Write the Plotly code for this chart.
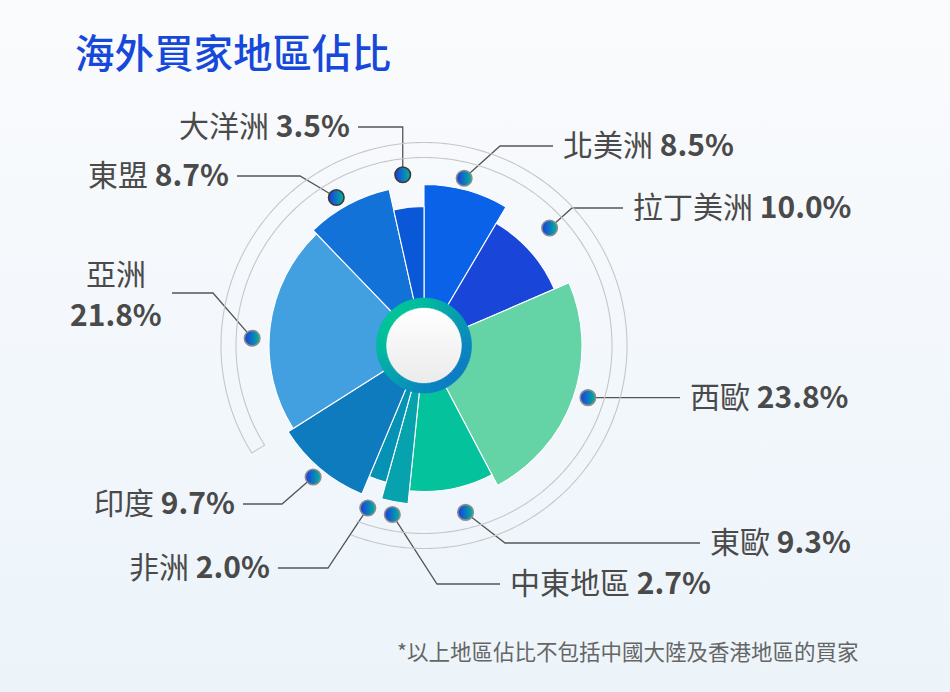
import math

import plotly.graph_objects as go


# =============================================================================
# DATA
# =============================================================================

regions = ["北美洲", "拉丁美洲", "西歐", "東歐", "中東地區",
           "非洲", "印度", "亞洲", "東盟", "大洋洲"]
shares = [8.5, 10.0, 23.8, 9.3, 2.7, 2.0, 9.7, 21.8, 8.7, 3.5]
# length of each petal in px (long / short petals)
petal_len = [161, 142, 158, 146, 159, 142, 161, 155, 160, 139]

colors = ["#0a62e8", "#1a45d9", "#64d3a5", "#04c29c", "#06a3ae",
          "#0592b4", "#0e7bbe", "#429fe0", "#1272d8", "#0a58d8"]

TITLE = "海外買家地區佔比"
NOTE = "*以上地區佔比不包括中國大陸及香港地區的買家"


# =============================================================================
# LAYOUT CONSTANTS (px)
# =============================================================================

W, H = 950, 692
CX, CY = 424, 345.5          # centre of the rose
R_POLAR = 212                # radius of the polar area
HOLE = 40                    # petals start here (hidden by the centre ring)
DOT_R = 172                  # radius where the callout dots sit

# callouts: elbow point, x where the horizontal line ends, side of the text,
# nudge = small angular shift of the dot (deg) to match the original placement
callouts = {
    "北美洲": dict(elbow=(500, 146), end=553, side="right", nudge=-1.8),
    "拉丁美洲": dict(elbow=(572, 208), end=623, side="right", nudge=-1.7),
    "西歐": dict(elbow=None, end=680, side="right", nudge=-1.8),
    "東歐": dict(elbow=(505, 543), end=700, side="right", nudge=-3),
    "中東地區": dict(elbow=(437, 584), end=500, side="right", nudge=0),
    "非洲": dict(elbow=(328, 568), end=278, side="left", nudge=0),
    "印度": dict(elbow=(282, 504), end=243, side="left", nudge=0),
    "亞洲": dict(elbow=(213, 293), end=172, side="stack", nudge=-4.4),
    "東盟": dict(elbow=(300, 176), end=237, side="left", nudge=-2.4),
    "大洋洲": dict(elbow="vertical", end=358, side="left", y=127, nudge=-0.8),
}
dark_dots = {"東盟", "大洋洲"}


def to_px(r, theta):
    """polar (r in px, theta clockwise from 12 o'clock) -> page px"""
    a = math.radians(theta)
    return CX + r * math.sin(a), CY - r * math.cos(a)


widths = [s * 3.6 for s in shares]
thetas = []
acc = 0
for w in widths:
    thetas.append(acc + w / 2)
    acc += w


fig = go.Figure()

# background with a soft gradient
fig.add_trace(go.Scatter(
    x=[0, W, W, 0, 0], y=[0, 0, H, H, 0], mode="lines", fill="toself",
    line=dict(width=0),
    fillgradient=dict(type="vertical", start=0, stop=H,
                      colorscale=[[0, "#fafbfd"], [1, "#ecf4fa"]]),
    hoverinfo="skip", showlegend=False))

# white centre disc
fig.add_trace(go.Scatter(
    x=[CX], y=[CY], mode="markers",
    marker=dict(size=78, color="#ffffff", line=dict(width=0),
                gradient=dict(type="vertical", color="#ebebeb")),
    hoverinfo="skip", showlegend=False))

# callout lines
lx, ly = [], []
dots_x, dots_y, dot_border = [], [], []
for name, th, val in zip(regions, thetas, shares):
    c = callouts[name]
    dx, dy = to_px(DOT_R, th + c["nudge"])
    dots_x.append(dx)
    dots_y.append(dy)
    dot_border.append("#3a3a3a" if name in dark_dots else "#8c8c8c")
    if c["elbow"] is None:
        pts = [(dx, dy), (c["end"], dy)]
    elif c["elbow"] == "vertical":
        pts = [(dx, dy), (dx, c["y"]), (c["end"], c["y"])]
    else:
        ex, ey = c["elbow"]
        pts = [(dx, dy), (ex, ey), (c["end"], ey)]
    for px, py in pts:
        lx.append(px)
        ly.append(py)
    lx.append(None)
    ly.append(None)

    text_y = pts[-1][1] - 3
    if c["side"] == "right":
        fig.add_annotation(x=c["end"] + 9, y=text_y, xanchor="left",
                           text=f"{name} <b>{val:.1f}%</b>")
    elif c["side"] == "left":
        fig.add_annotation(x=c["end"] - 7, y=text_y, xanchor="right",
                           text=f"{name} <b>{val:.1f}%</b>")
    else:
        # name above, value below, both centred left of the line
        fig.add_annotation(x=116, y=text_y - 18, xanchor="center", text=name)
        fig.add_annotation(x=116, y=text_y + 23, xanchor="center",
                           text=f"<b>{val:.1f}%</b>")

fig.add_trace(go.Scatter(
    x=lx, y=ly, mode="lines", line=dict(color="#555555", width=1.3),
    hoverinfo="skip", showlegend=False))

fig.add_trace(go.Scatter(
    x=dots_x, y=dots_y, mode="markers",
    marker=dict(size=15.5, color="#1c3ae2",
                gradient=dict(type="horizontal", color="#00b59a"),
                line=dict(color=dot_border, width=1.6)),
    hoverinfo="skip", showlegend=False))

# petals
fig.add_trace(go.Barpolar(
    r=[p - HOLE for p in petal_len], base=HOLE, theta=thetas, width=widths,
    marker=dict(color=colors, line=dict(color="#ffffff", width=1.1)),
    text=regions, customdata=shares,
    hovertemplate="%{text}: %{customdata}%<extra></extra>",
    showlegend=False))

# gradient ring around the centre
ring_theta = list(range(0, 360, 4))
ring_col = []
for t in ring_theta:
    a = math.radians(t + 2)
    p = (math.sin(a) - math.cos(a)) / math.sqrt(2)   # top-left -> bottom-right
    k = (p + 1) / 2
    c0 = (0x00, 0xc4, 0x98)
    c1 = (0x0c, 0x7c, 0xc4)
    rgb = tuple(round(c0[i] + (c1[i] - c0[i]) * k) for i in range(3))
    ring_col.append("rgb(%d,%d,%d)" % rgb)
fig.add_trace(go.Barpolar(
    r=[9.5] * len(ring_theta), base=38, theta=[t + 2 for t in ring_theta],
    width=[4.2] * len(ring_theta),
    marker=dict(color=ring_col, line=dict(color=ring_col, width=0.6)),
    hoverinfo="skip", showlegend=False))

# thin grey guide band
arc = list(range(238, 562))
fig.add_trace(go.Scatterpolar(
    r=[188] * len(arc) + [203] * len(arc),
    theta=arc[::-1] + arc,
    mode="lines", line=dict(color="#c6c6c6", width=1.1),
    hoverinfo="skip", showlegend=False))

fig.update_annotations(
    xref="x", yref="y", yanchor="middle", showarrow=False, borderpad=0,
    font=dict(family="Noto Sans CJK TC", size=30, color="#4a4a4a"))

fig.add_annotation(
    x=73, y=50, xref="x", yref="y", xanchor="left", yanchor="middle",
    showarrow=False, text=TITLE,
    font=dict(family="Noto Sans CJK TC", size=39.5, color="#1649d9", weight=500))
fig.add_annotation(
    x=861, y=650, xref="x", yref="y", xanchor="right", yanchor="middle",
    showarrow=False, text=NOTE,
    font=dict(family="Noto Sans CJK TC", size=21.5, color="#666666"))

fig.update_layout(
    width=W, height=H,
    margin=dict(l=0, r=0, t=0, b=0),
    paper_bgcolor="#f5f8fb", plot_bgcolor="rgba(0,0,0,0)",
    xaxis=dict(range=[0, W], visible=False, fixedrange=True),
    yaxis=dict(range=[H, 0], visible=False, fixedrange=True),
    polar=dict(
        domain=dict(x=[(CX - R_POLAR) / W, (CX + R_POLAR) / W],
                    y=[1 - (CY + R_POLAR) / H, 1 - (CY - R_POLAR) / H]),
        bgcolor="rgba(0,0,0,0)",
        radialaxis=dict(range=[0, R_POLAR], visible=False),
        angularaxis=dict(rotation=90, direction="clockwise", visible=False),
    ),
    showlegend=False,
)

# the page is 950x692 exactly, so drop the default body margin
fig.write_html("out.html",
               config={"displayModeBar": False},
               post_script="document.body.style.margin='0';"
                           "document.body.style.overflow='hidden';")
